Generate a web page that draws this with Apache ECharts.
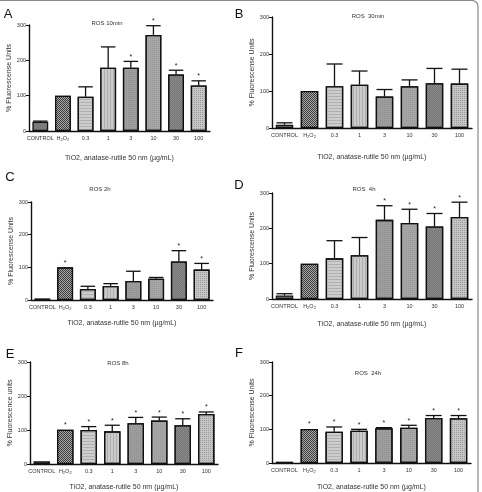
<!DOCTYPE html>
<html>
<head>
<meta charset="utf-8">
<script src="https://cdn.jsdelivr.net/npm/echarts@6/dist/echarts.min.js"></script>
<style>
  html, body { margin: 0; padding: 0; background: #fff; }
  #chart { width: 482px; height: 492px; }
</style>
</head>
<body>
<div id="chart"></div>
<script>
// categories (x axis), shared by every panel
const categories = ['CONTROL', 'H2O2', '0.3', '1', '3', '10', '30', '100'];
const yTicks = [0, 100, 200, 300];

// panel A - ROS 10min
const meanA = [26, 100, 97, 179, 179, 272, 160, 129];
const errA = [28, 100, 125, 238, 197, 298, 172, 142];
const starA = [0, 0, 0, 0, 1, 1, 1, 1];
// panel B - ROS 30min
const meanB = [9, 100, 113, 117, 85, 113, 121, 120];
const errB = [14, 100, 173, 154, 104, 130, 161, 159];
const starB = [0, 0, 0, 0, 0, 0, 0, 0];
// panel C - ROS 2h
const meanC = [5, 100, 34, 43, 58, 65, 118, 93];
const errC = [5, 100, 42, 50, 88, 69, 151, 112];
const starC = [0, 1, 0, 0, 0, 0, 1, 1];
// panel D - ROS 4h
const meanD = [10, 100, 115, 124, 224, 215, 205, 232];
const errD = [15, 100, 165, 174, 264, 254, 242, 274];
const starD = [0, 0, 0, 0, 1, 1, 1, 1];
// panel E - ROS 8h
const meanE = [8, 101, 100, 96, 120, 128, 114, 147];
const errE = [8, 101, 110, 114, 137, 138, 133, 153];
const starE = [0, 1, 1, 1, 1, 1, 1, 1];
// panel F - ROS 24h
const meanF = [4, 101, 93, 96, 103, 105, 134, 133];
const errF = [4, 101, 107, 100, 105, 112, 141, 141];
const starF = [0, 1, 1, 1, 1, 1, 1, 1];

const FONT = "'Liberation Sans', Arial, sans-serif";

// fill / hatch look of each bar (by category)
const barStyles = [
  { color: '#7b7b7b' },
  { color: '#3c3c3c', decal: { symbol: 'rect', symbolSize: 1, dashArrayX: [[1, 1], [0, 1, 1, 0]], dashArrayY: [1, 0], color: '#a8a8a8' } },
  { color: '#cdcdcd', decal: { symbol: 'rect', symbolSize: 1, dashArrayX: [1, 0], dashArrayY: [1, 2], color: '#b0b0b0' } },
  { color: '#cbcbcb', decal: { symbol: 'rect', symbolSize: 1, dashArrayX: [1, 0], dashArrayY: [1, 2], rotation: Math.PI / 2, color: '#adadad' } },
  { color: '#9d9d9d', decal: { symbol: 'rect', symbolSize: 1, dashArrayX: [1, 1], dashArrayY: [1, 1], color: '#909090' } },
  { color: '#a6a6a6', decal: { symbol: 'rect', symbolSize: 1, dashArrayX: [1, 1], dashArrayY: [1, 1], color: '#989898' } },
  { color: '#8c8c8c', decal: { symbol: 'rect', symbolSize: 1, dashArrayX: [[1, 1], [0, 1, 1, 0]], dashArrayY: [1, 0], color: '#747474' } },
  { color: '#c6c6c6', decal: { symbol: 'rect', symbolSize: 1, dashArrayX: [1, 1], dashArrayY: [1, 1], color: '#9a9a9a' } }
];

const panels = [
  { letter: 'A', title: 'ROS 10min', yName: '% Fluorescense Units', mean: meanA, err: errA, star: starA,
    grid: { left: 29, top: 25, width: 181, height: 106 }, letterPos: [8, 14], titlePos: [107, 23], xGap: 24 },
  { letter: 'B', title: 'ROS  30min', yName: '% Fluorescense Units', mean: meanB, err: errB, star: starB,
    grid: { left: 272, top: 17, width: 200, height: 111 }, letterPos: [239, 14], titlePos: [368, 16], xGap: 26 },
  { letter: 'C', title: 'ROS 2h', yName: '% Fluorescense Units', mean: meanC, err: errC, star: starC,
    grid: { left: 31, top: 202, width: 182, height: 98 }, letterPos: [10, 177], titlePos: [100, 189], xGap: 20 },
  { letter: 'D', title: 'ROS  4h', yName: '% Fluorescense Units', mean: meanD, err: errD, star: starD,
    grid: { left: 272, top: 193, width: 200, height: 106 }, letterPos: [239, 185], titlePos: [364, 189], xGap: 22 },
  { letter: 'E', title: 'ROS 8h', yName: '% Fluorescence units', mean: meanE, err: errE, star: starE,
    grid: { left: 30, top: 362, width: 188, height: 103 }, letterPos: [10, 354], titlePos: [118, 363], xGap: 20 },
  { letter: 'F', title: 'ROS  24h', yName: '% Fluorescense Units', mean: meanF, err: errF, star: starF,
    grid: { left: 272, top: 362, width: 199, height: 105 }, letterPos: [239, 353], titlePos: [368, 373], xGap: 21 }
];

const grids = [], xAxes = [], yAxes = [], series = [];
const graphics = [
  { type: 'rect', shape: { x: -6, y: 0.5, width: 484, height: 510, r: 6 },
    style: { fill: 'none', stroke: '#8a8a8a', lineWidth: 1.2 }, silent: true }
];

panels.forEach((p, i) => {
  grids.push(p.grid);
  xAxes.push({
    type: 'category', gridIndex: i, data: categories,
    name: 'TiO2, anatase-rutile 50 nm (\u00b5g/mL)', nameLocation: 'middle', nameGap: p.xGap,
    nameTextStyle: { fontSize: 7, color: '#333', fontFamily: FONT },
    axisLine: { lineStyle: { color: '#111', width: 1.4 } },
    axisTick: { alignWithLabel: true, length: 2, lineStyle: { color: '#111' } },
    axisLabel: {
      interval: 0, fontSize: 5.5, color: '#333', margin: 4, fontFamily: FONT,
      formatter: v => v === 'H2O2' ? 'H{s|2}O{s|2}' : v,
      rich: { s: { fontSize: 4, padding: [3, 0, 0, 0], color: '#333' } }
    }
  });
  yAxes.push({
    type: 'value', gridIndex: i, min: yTicks[0], max: yTicks[yTicks.length - 1], interval: 100,
    name: p.yName, nameLocation: 'middle', nameGap: 15,
    nameTextStyle: { fontSize: 7, color: '#333', fontFamily: FONT },
    axisLine: { show: true, lineStyle: { color: '#111', width: 1.4 } },
    axisTick: { show: true, length: 3, lineStyle: { color: '#111' } },
    axisLabel: { fontSize: 5.5, color: '#333', margin: 3, fontFamily: FONT },
    splitLine: { show: false }
  });
  series.push({
    type: 'bar', xAxisIndex: i, yAxisIndex: i, barWidth: '70%',
    data: p.mean.map((v, k) => ({
      value: v,
      itemStyle: Object.assign({ borderColor: '#111', borderWidth: 1.3 }, barStyles[k])
    })),
    silent: true
  });
  series.push({
    type: 'custom', xAxisIndex: i, yAxisIndex: i, silent: true, z: 3,
    data: p.mean.map((v, k) => [k, v, p.err[k], p.star[k]]),
    encode: { x: 0, y: [1, 2] },
    renderItem: (params, api) => {
      const base = api.coord([api.value(0), api.value(1)]);
      const top = api.coord([api.value(0), api.value(2)]);
      const cap = api.size([1, 0])[0] * 0.32;
      const children = [];
      if (top[1] < base[1] - 0.5) {
        children.push({ type: 'line', shape: { x1: base[0], y1: base[1], x2: top[0], y2: top[1] },
          style: { stroke: '#111', lineWidth: 1.3 } });
        children.push({ type: 'line', shape: { x1: top[0] - cap, y1: top[1], x2: top[0] + cap, y2: top[1] },
          style: { stroke: '#111', lineWidth: 1.3 } });
      }
      if (api.value(3)) {
        children.push({ type: 'text', x: top[0], y: top[1] - 1,
          style: { text: '*', fill: '#222', align: 'center', verticalAlign: 'bottom', font: '7px ' + FONT } });
      }
      return { type: 'group', children: children };
    }
  });
  graphics.push({ type: 'text', x: p.letterPos[0], y: p.letterPos[1],
    style: { text: p.letter, font: '13px ' + FONT, fill: '#111', align: 'center', verticalAlign: 'middle' } });
  graphics.push({ type: 'text', x: p.titlePos[0], y: p.titlePos[1],
    style: { text: p.title, font: '6px ' + FONT, fill: '#333', align: 'center', verticalAlign: 'middle' } });
});

const chart = echarts.init(document.getElementById('chart'), null, { renderer: 'canvas' });
chart.setOption({
  animation: false,
  backgroundColor: '#fff',
  grid: grids,
  xAxis: xAxes,
  yAxis: yAxes,
  series: series,
  graphic: graphics
});
</script>
</body>
</html>
